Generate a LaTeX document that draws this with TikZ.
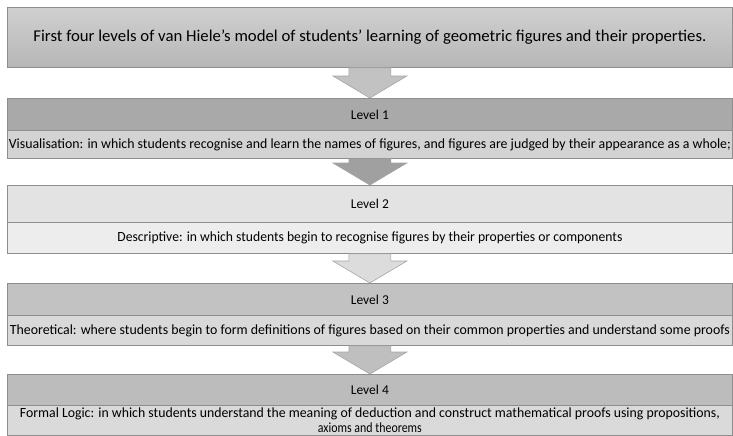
\documentclass[tikz,border=0pt]{standalone}
\usepackage{fontspec}
\setmainfont{Carlito}
\usetikzlibrary{calc}
\newcommand\fitw[2]{\resizebox{#1}{\height}{#2}}
\definecolor{edge}{HTML}{8E8E8E}
\definecolor{titlefill}{HTML}{C0C0C0}
\definecolor{aone}{HTML}{A9A9A9}
\definecolor{bone}{HTML}{D3D3D3}
\definecolor{atwo}{HTML}{E3E3E3}
\definecolor{btwo}{HTML}{EDEDED}
\definecolor{athree}{HTML}{C2C2C2}
\definecolor{bthree}{HTML}{D9D9D9}
\definecolor{afour}{HTML}{BCBCBC}
\definecolor{bfour}{HTML}{DADADA}
\definecolor{arrA}{HTML}{C2C2C2}
\definecolor{arrB}{HTML}{A0A0A0}
\definecolor{arrC}{HTML}{DCDCDC}
\definecolor{arrD}{HTML}{BFBFBF}
\tikzset{
  band/.style={draw=edge, line width=0.8pt, minimum width=725pt, inner sep=0pt, anchor=north west, align=center, text=black},
  hdr/.style={band, font=\fontsize{13.5}{15}\selectfont},
  body/.style={band, font=\fontsize{14}{14.5}\selectfont},
  blockarr/.style={draw=edge!80, line width=0.6pt, line join=miter}
}
\newcommand\blockarrow[3]{%
  \path[blockarr, fill=#3]
    ($(#1.south)+(-21,0)$) -- ($(#1.south)+(21,0)$) --
    ($(#2.north)+(21,-22)$) -- ($(#2.north)+(37,-22)$) --
    (#2.north) --
    ($(#2.north)+(-37,-22)$) -- ($(#2.north)+(-21,-22)$) -- cycle;}
\begin{document}
\begin{tikzpicture}[x=1pt,y=-1pt]
\useasboundingbox[fill=white] (0,0) rectangle (733,436);
% title
\node[band, minimum height=60pt, top color=titlefill!75!white, bottom color=titlefill!95!black,
      font=\fontsize{16.5}{18}\selectfont] (title) at (7,7)
  {\fitw{673pt}{First four levels of van Hiele’s model of students’ learning of geometric figures and their properties.}};
% level 1
\node[hdr, fill=aone, minimum height=32pt] (l1h) at (7,98) {Level 1};
\node[body, fill=bone, minimum height=28pt] (l1t) at (7,130)
  {\fitw{722pt}{Visualisation: in which students recognise and learn the names of figures, and figures are judged by their appearance as a whole;}};
% level 2
\node[hdr, fill=atwo, minimum height=37pt] (l2h) at (7,185) {\raisebox{-6pt}{Level 2}};
\node[body, fill=btwo, minimum height=31pt] (l2t) at (7,222)
  {\fitw{505pt}{Descriptive: in which students begin to recognise figures by their properties or components}};
% level 3
\node[hdr, fill=athree, minimum height=32pt] (l3h) at (7,283) {Level 3};
\node[body, fill=bthree, minimum height=30pt] (l3t) at (7,315)
  {\fitw{720pt}{Theoretical: where students begin to form definitions of figures based on their common properties and understand some proofs}};
% level 4
\node[hdr, fill=afour, minimum height=31pt] (l4h) at (7,374) {Level 4};
\node[body, fill=bfour, minimum height=30pt] (l4t) at (7,405)
  {\fitw{700pt}{Formal Logic: in which students understand the meaning of deduction and construct mathematical proofs using propositions,}\\
   \scalebox{0.85}[1]{axioms and theorems}};
% arrows
\blockarrow{title}{l1h}{arrA}
\blockarrow{l1t}{l2h}{arrB}
\blockarrow{l2t}{l3h}{arrC}
\blockarrow{l3t}{l4h}{arrD}
\end{tikzpicture}
\end{document}
